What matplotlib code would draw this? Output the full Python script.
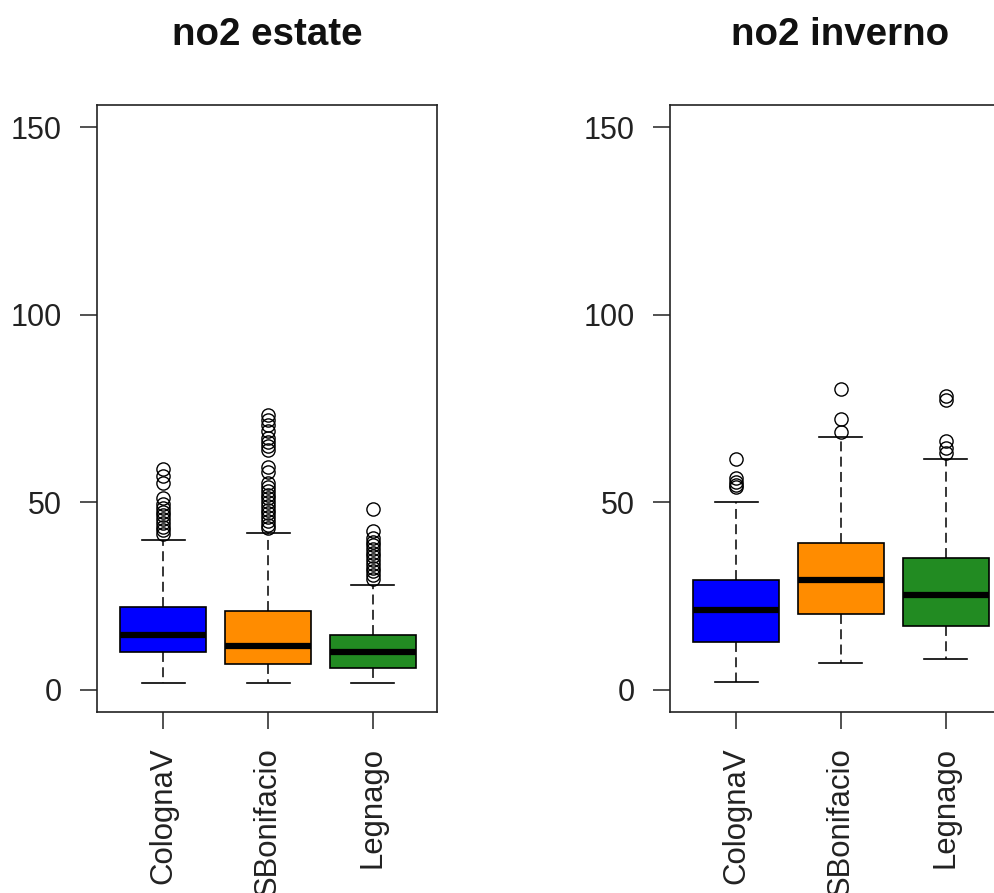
import matplotlib
matplotlib.use('Agg')
import matplotlib.pyplot as plt

plt.rcParams['font.family'] = ['Liberation Sans', 'DejaVu Sans']

stations = ['ColognaV', 'SBonifacio', 'Legnago']
colors = ['#0000FF', '#FF8C00', '#228B22']

# estate: summary stats
est_q1 = [9.9, 6.9, 5.7]
est_med = [14.6, 11.5, 9.9]
est_q3 = [22.0, 20.9, 14.6]
est_lo = [1.7, 1.7, 1.7]
est_hi = [39.8, 41.9, 28.0]
est_out = [
    [58.9, 57.0, 55.2, 51.2, 49.5, 48.5, 47.5, 46.5, 45.5, 44.5, 43.5, 42.5, 41.5],
    [73.3, 72.0, 70.5, 69.0, 67.0, 66.0, 65.0, 64.0, 59.3, 58.0, 55.0, 54.0, 53.0,
     52.0, 51.0, 50.0, 49.0, 48.0, 47.0, 46.0, 45.0, 44.0, 43.0],
    [48.1, 42.3, 40.5, 39.5, 38.5, 37.5, 36.5, 35.5, 34.5, 33.5, 32.5, 31.5, 30.5, 29.5],
]

# inverno
inv_q1 = [12.6, 20.1, 17.0]
inv_med = [21.2, 29.1, 25.3]
inv_q3 = [29.1, 39.1, 35.1]
inv_lo = [2.0, 7.2, 8.2]
inv_hi = [50.0, 67.5, 61.4]
inv_out = [
    [61.4, 56.5, 55.5, 54.5, 54.0],
    [80.3, 72.1, 68.6],
    [78.4, 77.3, 66.4, 64.5, 63.0],
]

titles = ['no2 estate', 'no2 inverno']


def make_stats(q1, med, q3, lo, hi, out):
    stats = []
    for i in range(len(stations)):
        stats.append({'label': stations[i], 'q1': q1[i], 'med': med[i], 'q3': q3[i],
                      'whislo': lo[i], 'whishi': hi[i], 'fliers': out[i]})
    return stats


panels = [make_stats(est_q1, est_med, est_q3, est_lo, est_hi, est_out),
          make_stats(inv_q1, inv_med, inv_q3, inv_lo, inv_hi, inv_out)]

fig = plt.figure(figsize=(9.94, 8.93), dpi=100)
fig.patch.set_facecolor('white')

# right panel runs past the picture edge, as in the original
ax_pos = [[0.0976, 0.2027, 0.342, 0.6797], [0.674, 0.2027, 0.342, 0.6797]]

for k in range(2):
    ax = fig.add_axes(ax_pos[k])
    bp = ax.bxp(panels[k], positions=[1, 2, 3], widths=0.82, patch_artist=True,
                showfliers=True,
                boxprops=dict(edgecolor='black', linewidth=1.2),
                medianprops=dict(color='black', linewidth=4.5, solid_capstyle='butt'),
                whiskerprops=dict(color='black', linewidth=1.1, linestyle=(0, (6.5, 3.5))),
                capprops=dict(color='black', linewidth=1.2),
                capwidths=0.41,
                flierprops=dict(marker='o', markersize=9.5, markerfacecolor='none',
                                markeredgecolor='black', markeredgewidth=1.0, linestyle='none'))
    for patch, c in zip(bp['boxes'], colors):
        patch.set_facecolor(c)

    ax.set_xlim(0.37, 3.61)
    ax.set_ylim(-6, 156)
    ax.set_yticks([0, 50, 100, 150])
    ax.set_yticklabels(['0', '50', '100', '150'], fontsize=22, color='#222222')
    ax.set_xticks([1, 2, 3])
    ax.set_xticklabels(stations, rotation=90, fontsize=22.4, color='#222222')
    ax.tick_params(axis='both', length=12.5, width=1.1, pad=13, color='#222222')
    for s in ax.spines.values():
        s.set_linewidth(1.2)
        s.set_color('#222222')
    ax.set_title(titles[k], fontsize=27.7, fontweight='bold', pad=43, color='#111111')

fig.savefig('out.png', dpi=100, facecolor='white')
